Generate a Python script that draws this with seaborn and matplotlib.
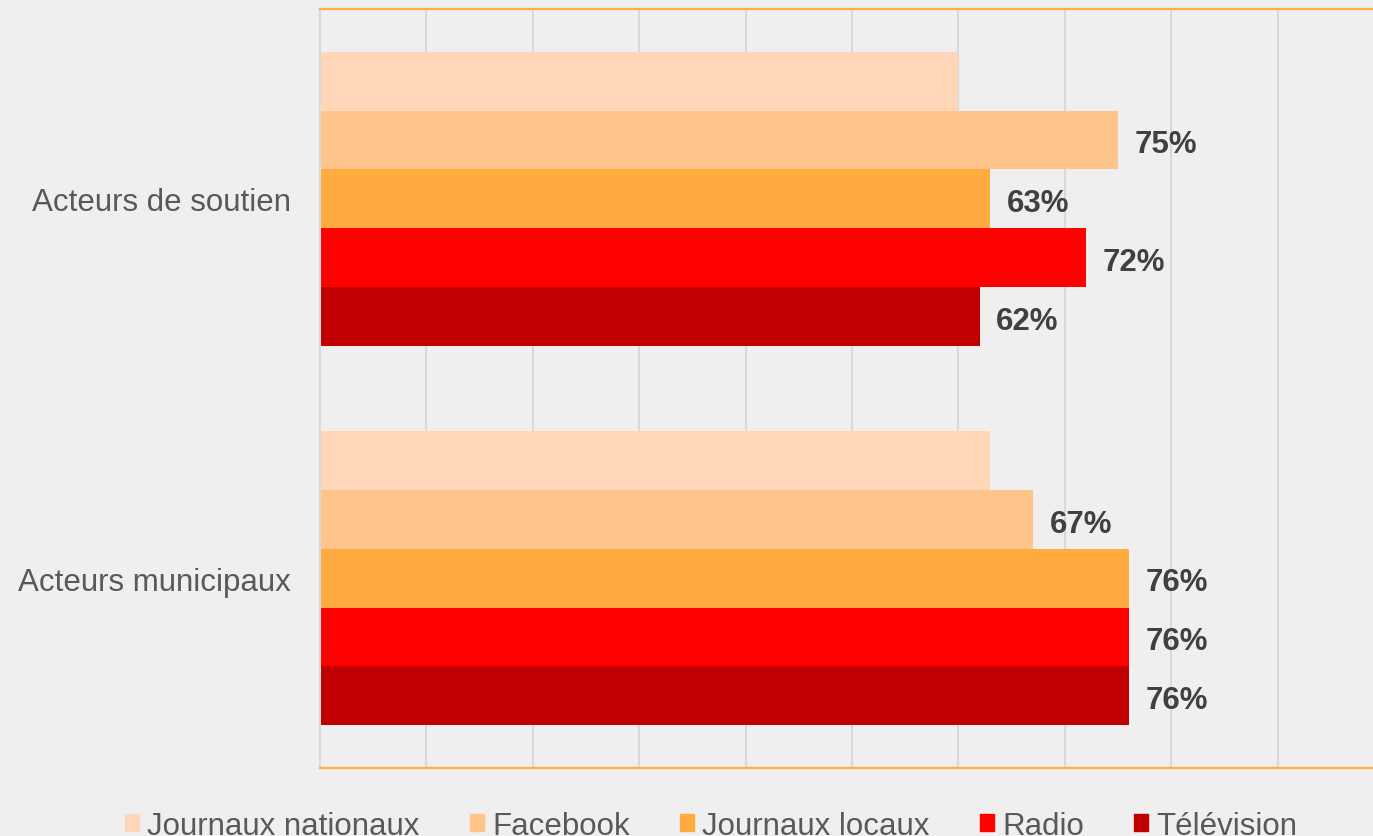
import matplotlib.pyplot as plt
import seaborn as sns
import pandas as pd

# Data
categories = ["Acteurs de soutien", "Acteurs municipaux"]
series = ["Journaux nationaux", "Facebook", "Journaux locaux", "Radio", "Télévision"]
journaux_nationaux = [0.60, 0.63]
facebook = [0.75, 0.67]
journaux_locaux = [0.63, 0.76]
radio = [0.72, 0.76]
television = [0.62, 0.76]

colors = ["#ffd7b8", "#ffc48c", "#ffab40", "#ff0000", "#c00000"]

rows = []
for name, vals in zip(series, [journaux_nationaux, facebook, journaux_locaux, radio, television]):
    for cat, v in zip(categories, vals):
        rows.append({"Catégorie": cat, "Média": name, "Part": v})
df = pd.DataFrame(rows)

sns.set_style("white")
plt.rcParams["font.family"] = ["Liberation Sans", "DejaVu Sans"]

bg = "#efefef"
fig = plt.figure(figsize=(13.73, 8.37), dpi=100, facecolor=bg)
ax = fig.add_axes([320 / 1373, (837 - 769) / 837, 1064 / 1373, 759 / 837])
ax.set_facecolor(bg)

sns.barplot(data=df, y="Catégorie", x="Part", hue="Média", order=categories,
            hue_order=series, palette=dict(zip(series, colors)), orient="h",
            width=0.775, saturation=1, linewidth=0, errorbar=None, ax=ax)

ax.set_xlim(0, 1)
ax.set_xticks([i / 10 for i in range(11)])
ax.set_xticklabels([])
ax.tick_params(axis="x", length=0)
ax.tick_params(axis="y", length=0, pad=21, labelsize=22.5, labelcolor="#595959")
ax.xaxis.grid(True, color="#d9d9d9", linewidth=1.5)
ax.set_axisbelow(True)
ax.set_xlabel("")
ax.set_ylabel("")

for side in ["top", "bottom"]:
    ax.spines[side].set_color("#ffad47")
    ax.spines[side].set_linewidth(1.6)
ax.spines["left"].set_color("#d9d9d9")
ax.spines["left"].set_linewidth(1.5)
ax.spines["right"].set_visible(False)

# Value labels (none on the first series)
for cont in ax.containers[1:]:
    anns = ax.bar_label(cont, labels=[f"{b.get_width() * 100:.0f}%" for b in cont],
                        padding=12, fontsize=22.5, fontweight="bold", color="#404040")
    for a in anns:
        a.xyann = (12, -3)

ax.legend_.remove()
handles = [plt.Rectangle((0, 0), 1, 1, color=c) for c in colors]
fig.legend(handles, series, loc="center", bbox_to_anchor=(0.518, 10 / 837),
           ncol=5, frameon=False, fontsize=22.5, labelcolor="#595959",
           handlelength=0.45, handleheight=0.45, handletextpad=0.25,
           columnspacing=1.62, borderpad=0)

fig.savefig("out.png", dpi=100, facecolor=bg)
